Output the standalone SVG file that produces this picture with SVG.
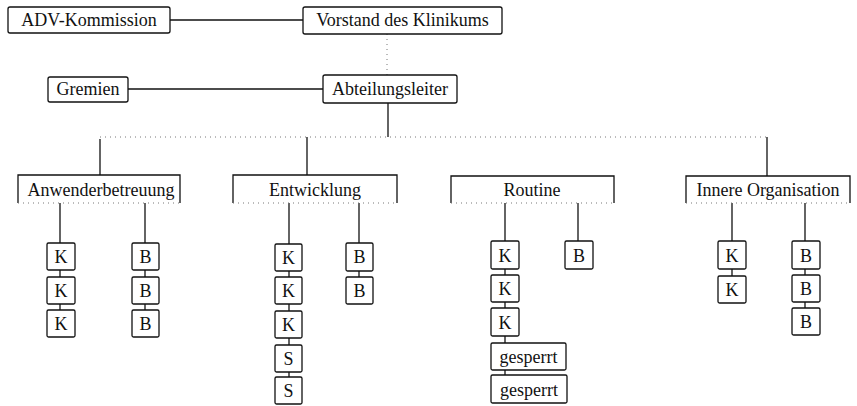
<svg xmlns="http://www.w3.org/2000/svg" width="857" height="406" viewBox="0 0 857 406">
<style>
.b{fill:#fff;stroke:#111;stroke-width:1.3}
.t{font-family:"Liberation Serif","Times New Roman",serif;font-size:18px;fill:#111;text-anchor:middle}
.c{stroke:#111;stroke-width:1.3;fill:none}
.d{stroke:#777;stroke-width:1;stroke-dasharray:1 4;fill:none}
.g{fill:none;stroke:#111;stroke-width:1.3}
</style>
<rect width="857" height="406" fill="#fff"/>
<g id="connectors">
<line class="c" x1="170" y1="20" x2="303" y2="20"/>
<line class="d" x1="387" y1="34" x2="387" y2="75"/>
<line class="c" x1="128" y1="89" x2="323" y2="89"/>
<line class="c" x1="388" y1="103" x2="388" y2="137"/>
<line class="d" x1="100" y1="137" x2="767" y2="137"/>
<line class="c" x1="100" y1="139" x2="100" y2="175"/>
<line class="c" x1="307" y1="137" x2="307" y2="175"/>
<line class="c" x1="767" y1="137" x2="767" y2="176"/>
<line class="c" x1="60" y1="203" x2="60" y2="337"/>
<line class="c" x1="145" y1="203" x2="145" y2="337"/>
<line class="c" x1="289" y1="203" x2="289" y2="404"/>
<line class="c" x1="359" y1="203" x2="359" y2="304"/>
<line class="c" x1="505" y1="203" x2="505" y2="403"/>
<line class="c" x1="578" y1="203" x2="578" y2="241"/>
<line class="c" x1="732" y1="203" x2="732" y2="303"/>
<line class="c" x1="805" y1="203" x2="805" y2="335"/>
</g>
<g id="adv"><rect class="b" x="8" y="7" width="162" height="26" rx="2"/><text class="t" x="89" y="26">ADV-Kommission</text></g>
<g id="vorstand"><rect class="b" x="303" y="7" width="199" height="27" rx="2"/><text class="t" x="402.5" y="26">Vorstand des Klinikums</text></g>
<g id="gremien"><rect class="b" x="48" y="77" width="80" height="25" rx="2"/><text class="t" x="88" y="95">Gremien</text></g>
<g id="abteilungsleiter"><rect class="b" x="323" y="75" width="134" height="28" rx="2"/><text class="t" x="390" y="95">Abteilungsleiter</text></g>
<g id="anwender"><path class="g" d="M18 203V175H180V203"/><line class="d" x1="18" y1="203" x2="180" y2="203"/><text class="t" x="101" y="196">Anwenderbetreuung</text></g>
<g id="entwicklung"><path class="g" d="M233 203V175H397V203"/><line class="d" x1="233" y1="203" x2="397" y2="203"/><text class="t" x="315" y="196">Entwicklung</text></g>
<g id="routine"><path class="g" d="M451 203V176H614V203"/><line class="d" x1="451" y1="203" x2="614" y2="203"/><text class="t" x="532" y="196">Routine</text></g>
<g id="innere"><path class="g" d="M686 203V176H850V203"/><line class="d" x1="686" y1="203" x2="850" y2="203"/><text class="t" x="768" y="196">Innere Organisation</text></g>
<g id="a-k1"><rect class="b" x="47" y="243" width="28" height="27" rx="1.5"/><text class="t" x="61" y="263">K</text></g>
<g id="a-k2"><rect class="b" x="47" y="277" width="28" height="27" rx="1.5"/><text class="t" x="61" y="297">K</text></g>
<g id="a-k3"><rect class="b" x="47" y="310" width="28" height="27" rx="1.5"/><text class="t" x="61" y="330">K</text></g>
<g id="a-b1"><rect class="b" x="132" y="243" width="27" height="27" rx="1.5"/><text class="t" x="145.5" y="263">B</text></g>
<g id="a-b2"><rect class="b" x="132" y="277" width="27" height="27" rx="1.5"/><text class="t" x="145.5" y="297">B</text></g>
<g id="a-b3"><rect class="b" x="132" y="310" width="27" height="27" rx="1.5"/><text class="t" x="145.5" y="330">B</text></g>
<g id="e-k1"><rect class="b" x="275" y="244" width="27" height="27" rx="1.5"/><text class="t" x="288.5" y="264">K</text></g>
<g id="e-k2"><rect class="b" x="275" y="277" width="27" height="27" rx="1.5"/><text class="t" x="288.5" y="297">K</text></g>
<g id="e-k3"><rect class="b" x="275" y="311" width="27" height="27" rx="1.5"/><text class="t" x="288.5" y="331">K</text></g>
<g id="e-s1"><rect class="b" x="275" y="345" width="27" height="27" rx="1.5"/><text class="t" x="288.5" y="365">S</text></g>
<g id="e-s2"><rect class="b" x="275" y="377" width="27" height="27" rx="1.5"/><text class="t" x="288.5" y="397">S</text></g>
<g id="e-b1"><rect class="b" x="346" y="243" width="27" height="28" rx="1.5"/><text class="t" x="359.5" y="263">B</text></g>
<g id="e-b2"><rect class="b" x="346" y="277" width="27" height="27" rx="1.5"/><text class="t" x="359.5" y="297">B</text></g>
<g id="r-k1"><rect class="b" x="491" y="241" width="28" height="28" rx="1.5"/><text class="t" x="505" y="262">K</text></g>
<g id="r-k2"><rect class="b" x="491" y="275" width="28" height="27" rx="1.5"/><text class="t" x="505" y="295">K</text></g>
<g id="r-k3"><rect class="b" x="491" y="308" width="28" height="28" rx="1.5"/><text class="t" x="505" y="329">K</text></g>
<g id="r-g1"><rect class="b" x="491" y="343" width="75" height="27" rx="1.5"/><text class="t" x="528.5" y="363">gesperrt</text></g>
<g id="r-g2"><rect class="b" x="491" y="375" width="76" height="28" rx="1.5"/><text class="t" x="529" y="396">gesperrt</text></g>
<g id="r-b1"><rect class="b" x="565" y="241" width="28" height="28" rx="1.5"/><text class="t" x="579" y="262">B</text></g>
<g id="i-k1"><rect class="b" x="718" y="241" width="28" height="28" rx="1.5"/><text class="t" x="732" y="262">K</text></g>
<g id="i-k2"><rect class="b" x="718" y="276" width="28" height="27" rx="1.5"/><text class="t" x="732" y="296">K</text></g>
<g id="i-b1"><rect class="b" x="792" y="241" width="28" height="28" rx="1.5"/><text class="t" x="806" y="262">B</text></g>
<g id="i-b2"><rect class="b" x="792" y="275" width="28" height="27" rx="1.5"/><text class="t" x="806" y="295">B</text></g>
<g id="i-b3"><rect class="b" x="792" y="308" width="28" height="27" rx="1.5"/><text class="t" x="806" y="328">B</text></g>
</svg>
